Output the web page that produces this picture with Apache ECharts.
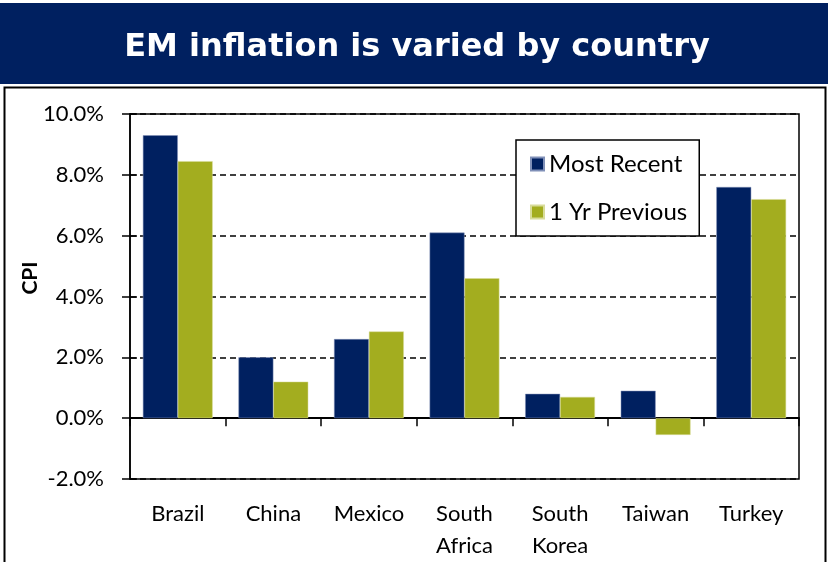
<!DOCTYPE html>
<html>
<head>
<meta charset="utf-8">
<script src="https://cdn.jsdelivr.net/npm/echarts@6/dist/echarts.min.js"></script>
<style>
  html, body { margin: 0; padding: 0; background: #fff; }
  #chart { width: 828px; height: 562px; }
</style>
</head>
<body>
<div id="chart"></div>
<script>
var countries = ['Brazil', 'China', 'Mexico', 'South\nAfrica', 'South\nKorea', 'Taiwan', 'Turkey']
var mostRecent = [9.3, 2.0, 2.6, 6.1, 0.8, 0.9, 7.6]
var yrPrevious = [8.45, 1.2, 2.85, 4.6, 0.7, -0.55, 7.2]

var navy = '#002060'
var olive = '#A3AD1F'
var labelFont = 'Lato, "Open Sans", sans-serif'

var chart = echarts.init(document.getElementById('chart'))
var option = {
  animation: false,
  graphic: [
    { type: 'rect', shape: { x: 0, y: 3, width: 828, height: 81 }, style: { fill: navy }, silent: true },
    {
      type: 'text', x: 417, y: 48,
      style: {
        text: 'EM inflation is varied by country', fill: '#fff',
        font: 'bold 32px "DejaVu Sans", Verdana, sans-serif',
        align: 'center', verticalAlign: 'middle'
      }
    },
    { type: 'rect', shape: { x: 4.5, y: 87.5, width: 821, height: 480 }, style: { fill: 'none', stroke: '#000', lineWidth: 2 }, silent: true },
    {
      type: 'text', x: 30, y: 278, rotation: Math.PI / 2,
      style: {
        text: 'CPI', fill: '#000', font: 'bold 21px Lato, sans-serif',
        align: 'center', verticalAlign: 'middle'
      }
    }
  ],
  grid: {
    left: 130, right: 29, top: 114, bottom: 78,
    show: true, borderColor: '#000', borderWidth: 1.5, backgroundColor: 'transparent'
  },
  legend: {
    orient: 'vertical',
    left: 516, top: 140,
    padding: [12, 12, 12, 14],
    itemGap: 24,
    itemWidth: 13, itemHeight: 13,
    icon: 'rect',
    borderColor: '#000', borderWidth: 1.5,
    backgroundColor: '#fff',
    textStyle: { fontFamily: labelFont, fontSize: 24, lineHeight: 24, color: '#000' },
    data: ['Most Recent', '1 Yr Previous']
  },
  xAxis: [
    {
      type: 'category', data: countries,
      axisLine: { show: false }, axisTick: { show: false },
      axisLabel: { fontFamily: labelFont, fontSize: 22, color: '#000', margin: 19, lineHeight: 32, interval: 0 }
    },
    {
      type: 'category', data: countries, position: 'bottom',
      axisLine: { onZero: true, lineStyle: { color: '#000', width: 2 } },
      axisTick: { show: true, length: 8, lineStyle: { color: '#000', width: 1.5 } },
      axisLabel: { show: false }
    }
  ],
  yAxis: [
    {
      type: 'value', min: -2, max: 10, interval: 2,
      axisLine: { show: true, lineStyle: { color: '#000', width: 1.5 } },
      axisTick: { show: true, length: 8, lineStyle: { color: '#000', width: 1.5 } },
      axisLabel: {
        fontFamily: labelFont, fontSize: 22, color: '#000', margin: 26,
        formatter: function (v) { return v.toFixed(1) + '%' }
      },
      splitLine: { show: true, lineStyle: { color: '#000', type: [6, 4], width: 1.5 } }
    },
    {
      type: 'value', min: -2, max: 10, interval: 2, position: 'left',
      axisLine: { show: false },
      axisTick: { show: true, inside: true, length: 7, lineStyle: { color: '#000', width: 1.5 } },
      axisLabel: { show: false }, splitLine: { show: false }
    }
  ],
  series: [
    {
      name: 'Most Recent', type: 'bar', data: mostRecent,
      barGap: '0%', barCategoryGap: '27%',
      itemStyle: { color: navy, borderColor: '#8090b8', borderWidth: 0.5 }
    },
    {
      name: '1 Yr Previous', type: 'bar', data: yrPrevious,
      itemStyle: { color: olive, borderColor: '#d8dc9a', borderWidth: 0.5 }
    }
  ]
}
chart.setOption(option)
</script>
</body>
</html>
